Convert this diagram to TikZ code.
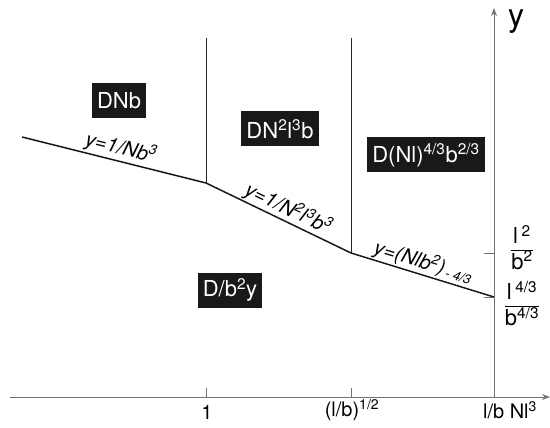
\documentclass[tikz,border=0pt]{standalone}
\usepackage{fontspec}
\setmainfont{TeX Gyre Heros}
\usetikzlibrary{arrows.meta}
\begin{document}
\begin{tikzpicture}[x=1pt,y=-1pt,
  box/.style={fill=black!90, text=white, font=\fontsize{22}{24}\selectfont, inner xsep=5pt, inner ysep=0pt, minimum height=35pt},
  curvelabel/.style={font=\fontsize{20}{22}\selectfont\itshape, sloped, above, inner sep=1pt},
  axisline/.style={draw=black!55, line width=0.9pt},
  ticklab/.style={font=\fontsize{20}{22}\selectfont, inner sep=0pt},
  fraclab/.style={font=\fontsize{22}{24}\selectfont, inner sep=0pt},
  boundary/.style={draw=black!90, line width=1.5pt},
  divider/.style={draw=black!85, line width=1pt}]
\useasboundingbox (0,0) rectangle (550,428);
% axes
\coordinate (xs) at (10,397);
\coordinate (xe) at (550,397);
\coordinate (o) at (494,397);
\coordinate (ye) at (494,8);
\draw[axisline, -{Stealth[length=8pt,width=6pt]}] (xs) -- (xe);
\draw[axisline, -{Stealth[length=8pt,width=6pt]}] (o) -- (ye);
\node[font=\fontsize{32}{34}\selectfont, inner sep=0pt] (ylab) at (516,22) {y};
% x ticks
\coordinate (tx1) at (206,397); \coordinate (tx1t) at (206,388);
\coordinate (tx2) at (351,397); \coordinate (tx2t) at (351,388);
\draw[axisline] (tx1) -- (tx1t);
\draw[axisline] (tx2) -- (tx2t);
\node[ticklab] (l1) at (207,412) {1};
\node[ticklab] (l2) at (352,410) {(l/b)\textsuperscript{1/2}};
\node[ticklab] (l3) at (510,410) {l/b Nl\textsuperscript{3}};
% curve points
\coordinate (p0) at (22,137);
\coordinate (p1) at (206,183);
\coordinate (p2) at (351,253);
\coordinate (p3) at (494,297);
\coordinate (t1) at (206,38);
\coordinate (t2) at (351,38);
% y ticks
\coordinate (ty1) at (484,253); \coordinate (ty1e) at (494,253);
\coordinate (ty2) at (484,297);
\draw[axisline] (ty1) -- (ty1e);
\draw[axisline] (ty2) -- (p3);
% dividers
\draw[divider] (t1) -- (p1);
\draw[divider] (t2) -- (p2);
% boundary
\draw[boundary] (p0) -- node[curvelabel, pos=0.52, yshift=1pt] {y=1/Nb\textsuperscript{3}} (p1)
  -- node[curvelabel, pos=0.53] {y=1/N\textsuperscript{2}l\textsuperscript{3}b\textsuperscript{3}} (p2)
  -- node[curvelabel, pos=0.48] {y=(Nlb\textsuperscript{2}){\fontsize{13}{14}\selectfont\raisebox{-2pt}{\,- 4/3}}} (p3);
% region labels
\node[box] (r1) at (119,101) {DNb};
\node[box] (r2) at (280,129) {DN\textsuperscript{2}l\textsuperscript{3}b};
\node[box] (r3) at (426,155) {D(Nl)\textsuperscript{4/3}b\textsuperscript{2/3}};
\node[box] (r4) at (230,290) {D/b\textsuperscript{2}y};
% fractions
\node[fraclab] (f1) at (522,251) {\begin{tabular}{@{}c@{}}l\,\textsuperscript{2}\\[-1pt]\hline\rule{0pt}{19pt}b\textsuperscript{2}\end{tabular}};
\node[fraclab] (f2) at (522,307) {\begin{tabular}{@{}c@{}}l\,\textsuperscript{4/3}\\[-1pt]\hline\rule{0pt}{19pt}b\textsuperscript{4/3}\end{tabular}};
\end{tikzpicture}
\end{document}
